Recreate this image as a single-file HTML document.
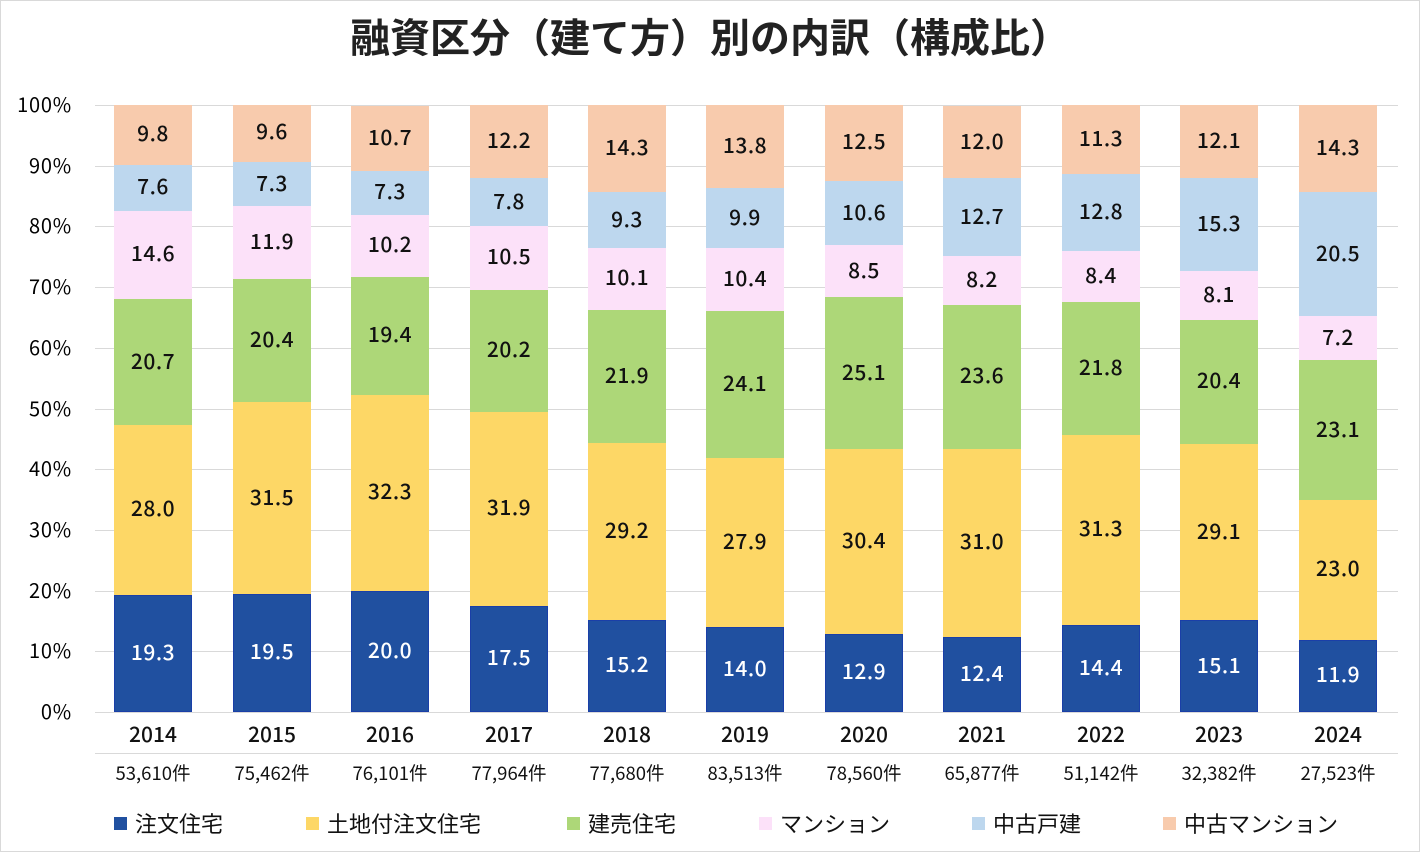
<!DOCTYPE html>
<html><head><meta charset="utf-8"><style>
body{margin:0;width:1420px;height:852px;background:#fff;font-family:"Noto Sans CJK JP","Liberation Sans",sans-serif;position:relative;overflow:hidden}
.frame{position:absolute;left:0;top:0;width:1418px;height:850px;border:1px solid #d9d9d9}
.title{position:absolute;left:0;width:1420px;top:8px;text-align:center;font-size:40px;line-height:54px;font-weight:bold;color:#222}
.grid{position:absolute;left:95px;width:1303px;height:1px;background:#d9d9d9}
.yl{position:absolute;left:0;width:72px;text-align:right;font-size:20px;letter-spacing:0.8px;line-height:20px;color:#000}
.bar{position:absolute;width:78px;top:105px;height:607px;display:flex;flex-direction:column-reverse;overflow:hidden}
.bar div{display:flex;align-items:center;justify-content:center;font-size:21px;letter-spacing:0.5px;font-weight:500;color:#111;flex:none;padding-bottom:3px;box-sizing:border-box}
.s1{background:#2050a0;color:#fff!important;box-shadow:inset 0 0 0 1px #1a3fa8}
.s2{background:#fdd766}.s3{background:#add778}.s4{background:#fce1f9}.s5{background:#bdd7ee}.s6{background:#f8cbad}
.xl{position:absolute;width:118px;text-align:center;color:#111}
.leg{position:absolute;top:808px;font-size:22px;line-height:30px;color:#111;display:flex;align-items:center}
.leg i{display:inline-block;width:13px;height:13px;margin-right:8px}
</style></head><body>
<div class="frame"></div>
<div class="title">融資区分（建て方）別の内訳（構成比）</div>
<div class="grid" style="top:105px"></div><div class="grid" style="top:166px"></div><div class="grid" style="top:226px"></div><div class="grid" style="top:287px"></div><div class="grid" style="top:348px"></div><div class="grid" style="top:409px"></div><div class="grid" style="top:469px"></div><div class="grid" style="top:530px"></div><div class="grid" style="top:591px"></div><div class="grid" style="top:651px"></div><div class="grid" style="top:712px"></div><div class="grid" style="top:753px"></div>
<div class="yl" style="top:94px">100%</div><div class="yl" style="top:155px">90%</div><div class="yl" style="top:215px">80%</div><div class="yl" style="top:276px">70%</div><div class="yl" style="top:337px">60%</div><div class="yl" style="top:398px">50%</div><div class="yl" style="top:458px">40%</div><div class="yl" style="top:519px">30%</div><div class="yl" style="top:580px">20%</div><div class="yl" style="top:640px">10%</div><div class="yl" style="top:701px">0%</div>

<div class="bar" style="left:114px"><div class="s1" style="height:19.3%">19.3</div><div class="s2" style="height:28.0%">28.0</div><div class="s3" style="height:20.7%">20.7</div><div class="s4" style="height:14.6%">14.6</div><div class="s5" style="height:7.6%">7.6</div><div class="s6" style="height:9.8%">9.8</div></div>
<div class="bar" style="left:233px"><div class="s1" style="height:19.5%">19.5</div><div class="s2" style="height:31.5%">31.5</div><div class="s3" style="height:20.4%">20.4</div><div class="s4" style="height:11.9%">11.9</div><div class="s5" style="height:7.3%">7.3</div><div class="s6" style="height:9.6%">9.6</div></div>
<div class="bar" style="left:351px"><div class="s1" style="height:20.0%">20.0</div><div class="s2" style="height:32.3%">32.3</div><div class="s3" style="height:19.4%">19.4</div><div class="s4" style="height:10.2%">10.2</div><div class="s5" style="height:7.3%">7.3</div><div class="s6" style="height:10.7%">10.7</div></div>
<div class="bar" style="left:470px"><div class="s1" style="height:17.5%">17.5</div><div class="s2" style="height:31.9%">31.9</div><div class="s3" style="height:20.2%">20.2</div><div class="s4" style="height:10.5%">10.5</div><div class="s5" style="height:7.8%">7.8</div><div class="s6" style="height:12.2%">12.2</div></div>
<div class="bar" style="left:588px"><div class="s1" style="height:15.2%">15.2</div><div class="s2" style="height:29.2%">29.2</div><div class="s3" style="height:21.9%">21.9</div><div class="s4" style="height:10.1%">10.1</div><div class="s5" style="height:9.3%">9.3</div><div class="s6" style="height:14.3%">14.3</div></div>
<div class="bar" style="left:706px"><div class="s1" style="height:14.0%">14.0</div><div class="s2" style="height:27.9%">27.9</div><div class="s3" style="height:24.1%">24.1</div><div class="s4" style="height:10.4%">10.4</div><div class="s5" style="height:9.9%">9.9</div><div class="s6" style="height:13.8%">13.8</div></div>
<div class="bar" style="left:825px"><div class="s1" style="height:12.9%">12.9</div><div class="s2" style="height:30.4%">30.4</div><div class="s3" style="height:25.1%">25.1</div><div class="s4" style="height:8.5%">8.5</div><div class="s5" style="height:10.6%">10.6</div><div class="s6" style="height:12.5%">12.5</div></div>
<div class="bar" style="left:943px"><div class="s1" style="height:12.4%">12.4</div><div class="s2" style="height:31.0%">31.0</div><div class="s3" style="height:23.6%">23.6</div><div class="s4" style="height:8.2%">8.2</div><div class="s5" style="height:12.7%">12.7</div><div class="s6" style="height:12.0%">12.0</div></div>
<div class="bar" style="left:1062px"><div class="s1" style="height:14.4%">14.4</div><div class="s2" style="height:31.3%">31.3</div><div class="s3" style="height:21.8%">21.8</div><div class="s4" style="height:8.4%">8.4</div><div class="s5" style="height:12.8%">12.8</div><div class="s6" style="height:11.3%">11.3</div></div>
<div class="bar" style="left:1180px"><div class="s1" style="height:15.1%">15.1</div><div class="s2" style="height:29.1%">29.1</div><div class="s3" style="height:20.4%">20.4</div><div class="s4" style="height:8.1%">8.1</div><div class="s5" style="height:15.3%">15.3</div><div class="s6" style="height:12.1%">12.1</div></div>
<div class="bar" style="left:1299px"><div class="s1" style="height:11.9%">11.9</div><div class="s2" style="height:23.0%">23.0</div><div class="s3" style="height:23.1%">23.1</div><div class="s4" style="height:7.2%">7.2</div><div class="s5" style="height:20.5%">20.5</div><div class="s6" style="height:14.3%">14.3</div></div>

<div style="position:absolute;top:719px;font-size:21px;line-height:30px;font-weight:500">
<div class="xl" style="left:94px">2014</div><div class="xl" style="left:213px">2015</div><div class="xl" style="left:331px">2016</div><div class="xl" style="left:450px">2017</div><div class="xl" style="left:568px">2018</div><div class="xl" style="left:686px">2019</div><div class="xl" style="left:805px">2020</div><div class="xl" style="left:923px">2021</div><div class="xl" style="left:1042px">2022</div><div class="xl" style="left:1160px">2023</div><div class="xl" style="left:1279px">2024</div></div>
<div style="position:absolute;top:760px;font-size:18.5px;line-height:26px">
<div class="xl" style="left:94px">53,610件</div><div class="xl" style="left:213px">75,462件</div><div class="xl" style="left:331px">76,101件</div><div class="xl" style="left:450px">77,964件</div><div class="xl" style="left:568px">77,680件</div><div class="xl" style="left:686px">83,513件</div><div class="xl" style="left:805px">78,560件</div><div class="xl" style="left:923px">65,877件</div><div class="xl" style="left:1042px">51,142件</div><div class="xl" style="left:1160px">32,382件</div><div class="xl" style="left:1279px">27,523件</div></div>

<div class="leg" style="left:114px"><i style="background:#2050a0"></i>注文住宅</div>
<div class="leg" style="left:306px"><i style="background:#fdd766"></i>土地付注文住宅</div>
<div class="leg" style="left:567px"><i style="background:#add778"></i>建売住宅</div>
<div class="leg" style="left:759px"><i style="background:#fce1f9"></i>マンション</div>
<div class="leg" style="left:972px"><i style="background:#bdd7ee"></i>中古戸建</div>
<div class="leg" style="left:1163px"><i style="background:#f8cbad"></i>中古マンション</div>
</body></html>
